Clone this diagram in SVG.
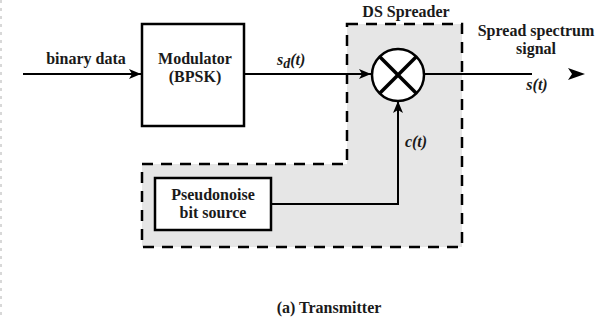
<svg xmlns="http://www.w3.org/2000/svg" width="601" height="320" viewBox="0 0 601 320">
<defs>
<style>
.t{font-family:"Liberation Serif",serif;font-weight:bold;font-size:16px;fill:#1a1a1a;text-anchor:middle}
.i{font-style:italic}
.ln{stroke:#000;stroke-width:2;fill:none}
.box{stroke:#000;stroke-width:2.5;fill:#fff}
</style>
<marker id="ah" viewBox="0 0 12 10" refX="12" refY="5" markerWidth="12" markerHeight="10" markerUnits="userSpaceOnUse" orient="auto">
<path d="M0,0 L12,5 L0,10 L3,5 Z" fill="#000"/>
</marker>
</defs>
<rect width="601" height="320" fill="#fff"/>
<line x1="1" y1="0" x2="1" y2="320" stroke="#ccc" stroke-width="1.5" stroke-dasharray="3,5"/>
<g id="ds-spreader">
<path d="M347,24 H462 V247 H142 V164 H347 Z" fill="#e6e6e6" stroke="#000" stroke-width="2.5" stroke-dasharray="11,8"/>
<text class="t" x="406" y="17" font-family="Liberation Serif, serif">DS Spreader</text>
</g>
<g id="connectors">
<line class="ln" x1="23" y1="74" x2="141" y2="74" marker-end="url(#ah)"/>
<line class="ln" x1="244" y1="74" x2="371" y2="74" marker-end="url(#ah)"/>
<line class="ln" x1="424" y1="74" x2="532" y2="74"/>
<path class="ln" d="M271,204 H398 V101" marker-end="url(#ah)"/>
<path d="M568,68 L585,74 L568,80 L572,74 Z" fill="#000"/>
</g>
<g id="modulator">
<rect class="box" x="142" y="24" width="102" height="102"/>
<text class="t" x="195" y="64" font-family="Liberation Serif, serif">Modulator</text>
<text class="t" x="195" y="82" font-family="Liberation Serif, serif">(BPSK)</text>
</g>
<g id="multiplier">
<circle cx="398" cy="75" r="26" fill="#fff" stroke="#000" stroke-width="2.5"/>
<line x1="380" y1="57" x2="416" y2="93" stroke="#000" stroke-width="3.5"/>
<line x1="416" y1="57" x2="380" y2="93" stroke="#000" stroke-width="3.5"/>
</g>
<g id="pn-source">
<rect class="box" x="155" y="178" width="116" height="52"/>
<text class="t" x="213" y="200" font-family="Liberation Serif, serif">Pseudonoise</text>
<text class="t" x="213" y="218" font-family="Liberation Serif, serif">bit source</text>
</g>
<g id="labels">
<text class="t" x="86" y="64" font-family="Liberation Serif, serif">binary data</text>
<text class="t i" x="277" y="65" font-family="Liberation Serif, serif" style="text-anchor:start">s<tspan dy="3" font-size="14">d</tspan><tspan dy="-3">(t)</tspan></text>
<text class="t" x="536" y="36" font-family="Liberation Serif, serif">Spread spectrum</text>
<text class="t" x="536" y="54" font-family="Liberation Serif, serif">signal</text>
<text class="t i" x="537" y="90" font-family="Liberation Serif, serif">s(t)</text>
<text class="t i" x="416" y="147" font-family="Liberation Serif, serif">c(t)</text>
<text class="t" x="329" y="313" font-family="Liberation Serif, serif">(a) Transmitter</text>
</g>
</svg>
